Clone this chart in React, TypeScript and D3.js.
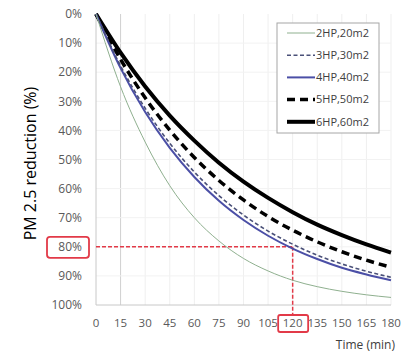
import React from "react";
import * as d3 from "d3";

const times = [0, 15, 30, 45, 60, 75, 90, 105, 120, 135, 150, 165, 180];
const hp2 = [0, 25, 44, 59, 70, 78, 84, 88.3, 91.5, 93.7, 95.3, 96.5, 97.4];
const hp3 = [0, 17.8, 32.4, 44.4, 54.3, 62.4, 69.1, 74.6, 79.1, 82.9, 85.9, 88.4, 90.5];
const hp4 = [0, 18.6, 33.7, 46.0, 56.0, 64.2, 70.8, 76.2, 80.6, 84.2, 87.2, 89.5, 91.5];
const hp5 = [0, 15.6, 28.8, 39.9, 49.3, 57.2, 63.9, 69.6, 74.3, 78.3, 81.7, 84.6, 87.0];
const hp6 = [0, 13.3, 24.9, 34.9, 43.5, 51.1, 57.6, 63.2, 68.1, 72.4, 76.0, 79.2, 82.0];
const seriesNames = ["2HP,20m2", "3HP,30m2", "4HP,40m2", "5HP,50m2", "6HP,60m2"];
const yTicks = [0, 10, 20, 30, 40, 50, 60, 70, 80, 90, 100];
const xTicks = [0, 15, 30, 45, 60, 75, 90, 105, 120, 135, 150, 165, 180];
const markerTime = 120;
const markerValue = 80;

const styles = [
  { color: "#8fb08f", width: 1, dash: "" },
  { color: "#4a5078", width: 1.6, dash: "4,2.5" },
  { color: "#4b4fa6", width: 2, dash: "" },
  { color: "#000000", width: 3.5, dash: "8,5" },
  { color: "#000000", width: 4, dash: "" },
];

export default function App() {
  const W = 410, H = 356;
  const x = d3.scaleLinear().domain([0, 180]).range([96, 391]);
  const y = d3.scaleLinear().domain([0, 100]).range([14, 305]);
  const data = [hp2, hp3, hp4, hp5, hp6];
  const line = d3
    .line<number>()
    .x((_, i) => x(times[i]))
    .y((v) => y(v))
    .curve(d3.curveMonotoneX);
  const font = "'Open Sans', 'Noto Sans', sans-serif";
  const red = "#e23a48";
  // draw order: thin ones on top of thick ones
  const order = [4, 3, 2, 1, 0];
  return (
    <svg width={W} height={H} style={{ position: "absolute", left: 0, top: 0, background: "#fff" }}>
      {/* grid */}
      {xTicks.filter((t) => t > 0).map((t) => (
        <line key={"gx" + t} x1={x(t)} x2={x(t)} y1={y(0)} y2={y(100)}
          stroke={t === 15 ? "#d0d0d0" : "#efefef"} strokeWidth={1} />
      ))}
      {yTicks.filter((t) => t > 0 && t < 100).map((t) => (
        <line key={"gy" + t} x1={x(0)} x2={x(180)} y1={y(t)} y2={y(t)} stroke="#f2f2f2" strokeWidth={1} />
      ))}
      {/* axes */}
      <line x1={x(0)} x2={x(0)} y1={y(0)} y2={y(100)} stroke="#c8c8c8" strokeWidth={1} />
      <line x1={x(0)} x2={x(180)} y1={y(100)} y2={y(100)} stroke="#c8c8c8" strokeWidth={1} />
      {/* y tick labels */}
      {yTicks.map((t) => (
        <text key={"yl" + t} x={82} y={y(t)} dy="0.35em" textAnchor="end" fontSize={12}
          fontFamily={font} fill="#595959">{t + "%"}</text>
      ))}
      {/* x tick labels */}
      {xTicks.map((t) => (
        <text key={"xl" + t} x={x(t)} y={323} dy="0.35em" textAnchor="middle" fontSize={11.5}
          fontFamily={font} fill="#595959">{t}</text>
      ))}
      <text x={395} y={345} dy="0.35em" textAnchor="end" fontSize={12} fontFamily={font} fill="#404040">Time (min)</text>
      <text transform={`translate(30,${(y(0) + y(100)) / 2 + 4}) rotate(-90)`} textAnchor="middle"
        dy="0.35em" fontSize={16} fontFamily={font} fill="#000">PM 2.5 reduction (%)</text>
      {/* red markers */}
      <line x1={x(0)} x2={x(markerTime)} y1={y(markerValue)} y2={y(markerValue)} stroke={red}
        strokeWidth={1.5} strokeDasharray="4,2" />
      <line x1={x(markerTime)} x2={x(markerTime)} y1={y(markerValue)} y2={315} stroke={red}
        strokeWidth={1.5} strokeDasharray="4,2" />
      {/* series */}
      {order.map((i) => (
        <path key={"s" + i} d={line(data[i]) || ""} fill="none" stroke={styles[i].color}
          strokeWidth={styles[i].width} strokeDasharray={styles[i].dash || undefined} />
      ))}
      <rect x={47} y={y(markerValue) - 10} width={42} height={21} rx={3} fill="none" stroke={red} strokeWidth={1.8} />
      <rect x={x(markerTime) - 14.5} y={315} width={30} height={17} rx={2} fill="none" stroke={red} strokeWidth={1.8} />
      {/* legend */}
      <rect x={277} y={23} width={102} height={110} fill="#fff" stroke="#a6a6a6" strokeWidth={1} />
      {seriesNames.map((n, i) => (
        <g key={"lg" + i}>
          <line x1={287} x2={315} y1={33 + i * 22.2} y2={33 + i * 22.2} stroke={styles[i].color}
            strokeWidth={styles[i].width} strokeDasharray={styles[i].dash || undefined} />
          <text x={316} y={33 + i * 22.2} dy="0.35em" fontSize={11} fontFamily={font} fill="#404040">{n}</text>
        </g>
      ))}
    </svg>
  );
}
